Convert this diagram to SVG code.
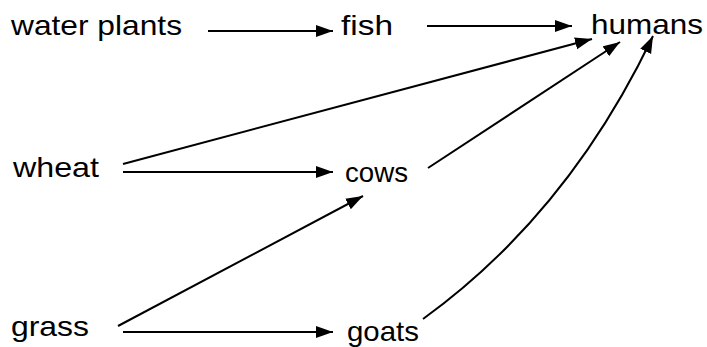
<svg xmlns="http://www.w3.org/2000/svg" width="707" height="347" viewBox="0 0 707 347">
<style>
.t{font-family:"Liberation Sans",Arial,sans-serif;font-size:28px;fill:#000}
.c{stroke:#000;stroke-width:2;fill:none;marker-end:url(#ah)}
</style>
<defs>
<marker id="ah" markerUnits="userSpaceOnUse" markerWidth="18" markerHeight="13" refX="17" refY="6" orient="auto">
<path d="M0,0 L17,6 L0,12 z" fill="#000"/>
</marker>
</defs>
<rect width="707" height="347" fill="#fff"/>
<g id="water-plants"><text class="t" x="11" y="35" textLength="171" lengthAdjust="spacingAndGlyphs">water plants</text></g>
<g id="fish"><text class="t" x="341" y="35" textLength="52" lengthAdjust="spacingAndGlyphs">fish</text></g>
<g id="humans"><text class="t" x="591" y="34" textLength="112" lengthAdjust="spacingAndGlyphs">humans</text></g>
<g id="wheat"><text class="t" x="13" y="177" textLength="86" lengthAdjust="spacingAndGlyphs">wheat</text></g>
<g id="cows"><text class="t" x="345" y="182" textLength="63" lengthAdjust="spacingAndGlyphs">cows</text></g>
<g id="grass"><text class="t" x="11" y="336" textLength="78" lengthAdjust="spacingAndGlyphs">grass</text></g>
<g id="goats"><text class="t" x="347" y="341" textLength="72" lengthAdjust="spacingAndGlyphs">goats</text></g>
<g id="connectors">
<line class="c" x1="208" y1="31" x2="333" y2="31"/>
<line class="c" x1="427" y1="26" x2="572" y2="26"/>
<line class="c" x1="123" y1="164" x2="592" y2="39"/>
<line class="c" x1="123" y1="172" x2="333" y2="172"/>
<line class="c" x1="428" y1="168" x2="620" y2="42"/>
<line class="c" x1="118" y1="326" x2="363" y2="196"/>
<line class="c" x1="123" y1="332" x2="333" y2="332"/>
<path class="c" d="M423,319 Q568,214 653,36"/>
</g>
</svg>
